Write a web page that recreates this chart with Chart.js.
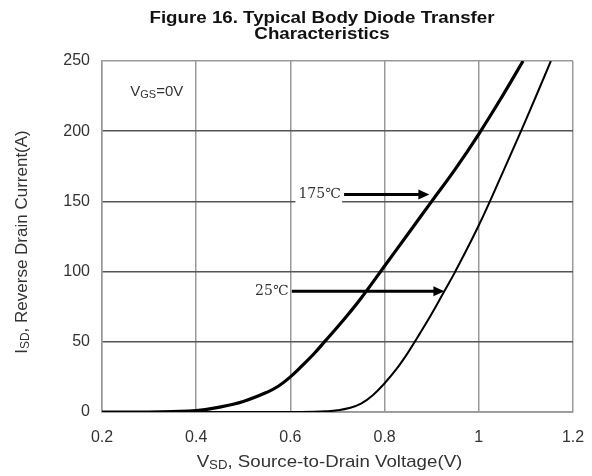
<!DOCTYPE html>
<html>
<head>
<meta charset="utf-8">
<script src="https://cdn.jsdelivr.net/npm/chart.js@4"></script>
<style>
  html, body { margin: 0; padding: 0; background: #fff; }
  #wrap { width: 592px; height: 476px; position: relative; }
</style>
</head>
<body>
<div id="wrap"><canvas id="chart"></canvas></div>
<script>
// 175C curve (thick)
let v175 = [0.2, 0.3, 0.35, 0.4, 0.45, 0.5, 0.55, 0.575, 0.6, 0.625, 0.65, 0.675, 0.7, 0.725, 0.75, 0.8, 0.85, 0.9, 0.95, 1.0, 1.05, 1.094];
let i175 = [0, 0, 0.3, 1, 3.5, 7.5, 14, 18.5, 25, 33, 41.5, 51, 60.5, 70.5, 81, 104, 127, 150, 173, 198, 225, 250];
// 25C curve (thin)
let v25 = [0.2, 0.6, 0.65, 0.675, 0.7, 0.725, 0.75, 0.775, 0.8, 0.825, 0.85, 0.875, 0.9, 0.925, 0.95, 1.0, 1.05, 1.1, 1.153];
let i25 = [0, 0, 0.2, 0.5, 1.2, 2.8, 6, 12, 20.5, 30.5, 42.5, 56, 70, 85, 100, 133, 170, 208, 250];

let xTicks = [0.2, 0.4, 0.6, 0.8, 1, 1.2];
let yTicks = [0, 50, 100, 150, 200, 250];

// annotation arrows: label, current level, text start, arrow start, arrow tip (volts)
let arrows = [
  {label: '175\u2103', y: 155, tx: 0.617, x0: 0.714, x1: 0.895},
  {label: '25\u2103', y: 86, tx: 0.525, x0: 0.603, x1: 0.927}
];

let pts = (xs, ys) => xs.map((x, k) => ({x: x, y: ys[k]}));

const AX_FONT = '17px "Liberation Sans", Arial';
const AX_SUB = '12px "Liberation Sans", Arial';

function subText(ctx, parts, x, y) {
  let cx = x;
  parts.forEach(p => {
    ctx.font = p[1] ? AX_SUB : AX_FONT;
    ctx.fillText(p[0], cx, p[1] ? y + 4 : y);
    cx += ctx.measureText(p[0]).width;
  });
}
function partsWidth(ctx, parts) {
  let w = 0;
  parts.forEach(p => {
    ctx.font = p[1] ? AX_SUB : AX_FONT;
    w += ctx.measureText(p[0]).width;
  });
  return w;
}

let labelPlugin = {
  id: 'labels',
  beforeDatasetsDraw(chart) {
    let c = chart.ctx, xs = chart.scales.x, ys = chart.scales.y;
    c.save();
    c.fillStyle = '#fff';
    // white boxes behind labels that break the grid
    c.fillRect(xs.getPixelForValue(0.25), ys.getPixelForValue(239), xs.getPixelForValue(0.39) - xs.getPixelForValue(0.25), 30);
    arrows.forEach(a => {
      let x = xs.getPixelForValue(a.tx) - 3;
      let w = xs.getPixelForValue(a.x0) - x - 2;
      c.fillRect(x, ys.getPixelForValue(a.y) - 12, w, 22);
    });
    c.restore();
  },
  afterDatasetsDraw(chart) {
    let c = chart.ctx, xs = chart.scales.x, ys = chart.scales.y;
    c.save();
    c.fillStyle = '#333';
    c.textBaseline = 'middle';
    // VGS label
    let px = xs.getPixelForValue(0.26), py = ys.getPixelForValue(228);
    c.font = '15px "Liberation Sans", Arial';
    c.fillText('V', px, py);
    let w = c.measureText('V').width;
    c.font = '11px "Liberation Sans", Arial';
    c.fillText('GS', px + w, py + 3);
    let w2 = c.measureText('GS').width;
    c.font = '15px "Liberation Sans", Arial';
    c.fillText('=0V', px + w + w2, py);

    arrows.forEach(a => {
      let y = ys.getPixelForValue(a.y);
      c.fillStyle = '#333';
      c.font = '14px "DejaVu Serif", serif';
      c.fillText(a.label, xs.getPixelForValue(a.tx), y);
      let x0 = xs.getPixelForValue(a.x0), x1 = xs.getPixelForValue(a.x1);
      c.strokeStyle = '#000';
      c.fillStyle = '#000';
      c.lineWidth = 3;
      c.beginPath();
      c.moveTo(x0, y);
      c.lineTo(x1 - 8, y);
      c.stroke();
      c.beginPath();
      c.moveTo(x1, y);
      c.lineTo(x1 - 11, y - 5);
      c.lineTo(x1 - 11, y + 5);
      c.closePath();
      c.fill();
    });

    // title (the reference is stretched sideways)
    c.save();
    c.fillStyle = '#111';
    c.textAlign = 'center';
    c.font = 'bold 16px "Liberation Sans", Arial';
    c.translate(322, 0);
    c.scale(1.17, 1);
    c.fillText('Figure 16. Typical Body Diode Transfer', 0, 19);
    c.fillText('Characteristics', 0, 35);
    c.restore();

    // x axis title
    c.save();
    c.textAlign = 'left';
    c.fillStyle = '#333';
    let xp = [['V', false], ['SD', true], [', Source-to-Drain Voltage(V)', false]];
    let cx = (chart.chartArea.left + chart.chartArea.right) / 2;
    c.translate(cx - 8, 462);
    c.scale(1.1, 1);
    subText(c, xp, -partsWidth(c, xp) / 2, 0);
    c.restore();

    // y axis title
    c.fillStyle = '#333';
    let yp = [['I', false], ['SD', true], [', Reverse Drain Current(A)', false]];
    c.translate(22, 242);
    c.rotate(-Math.PI / 2);
    subText(c, yp, -partsWidth(c, yp) / 2, 0);
    c.restore();
  }
};

let ctx = document.getElementById('chart').getContext('2d');
let chart = new Chart(ctx, {
  type: 'scatter',
  data: {
    datasets: [{
      label: '175C',
      data: pts(v175, i175),
      showLine: true,
      borderColor: '#000',
      borderWidth: 3.2,
      pointRadius: 0,
      tension: 0.4
    }, {
      label: '25C',
      data: pts(v25, i25),
      showLine: true,
      borderColor: '#000',
      borderWidth: 2,
      pointRadius: 0,
      tension: 0.4
    }]
  },
  options: {
    animation: false,
    responsive: true,
    maintainAspectRatio: false,
    layout: {padding: {top: 61, right: 19, left: 0, bottom: 0}},
    plugins: {
      legend: {display: false},
      title: {display: false},
      tooltip: {enabled: false}
    },
    scales: {
      x: {
        type: 'linear',
        min: 0.2,
        max: 1.2,
        afterBuildTicks: (s) => { s.ticks = xTicks.map(v => ({value: v})); },
        // fixed height; drop the side padding that tick padding adds
        afterFit: (s) => { s.height = 64; s.paddingLeft = 12; s.paddingRight = 12; },
        grid: {color: '#999', lineWidth: 1.5, drawTicks: false},
        border: {color: '#999', width: 1.5},
        ticks: {
          color: '#333',
          padding: 16,
          font: {size: 16, family: '"Liberation Sans", Arial'},
          callback: (v) => String(parseFloat(v.toFixed(1)))
        }
      },
      y: {
        min: 0,
        max: 250,
        afterBuildTicks: (s) => { s.ticks = yTicks.map(v => ({value: v})); },
        afterFit: (s) => { s.width = 102; },
        grid: {color: (c) => c.tick && c.tick.value === 250 ? '#999' : '#555', lineWidth: 1.5, drawTicks: false},
        border: {color: '#999', width: 1.5},
        ticks: {
          color: '#333',
          padding: 12,
          font: {size: 16, family: '"Liberation Sans", Arial'}
        }
      }
    }
  },
  plugins: [labelPlugin]
});
</script>
</body>
</html>
